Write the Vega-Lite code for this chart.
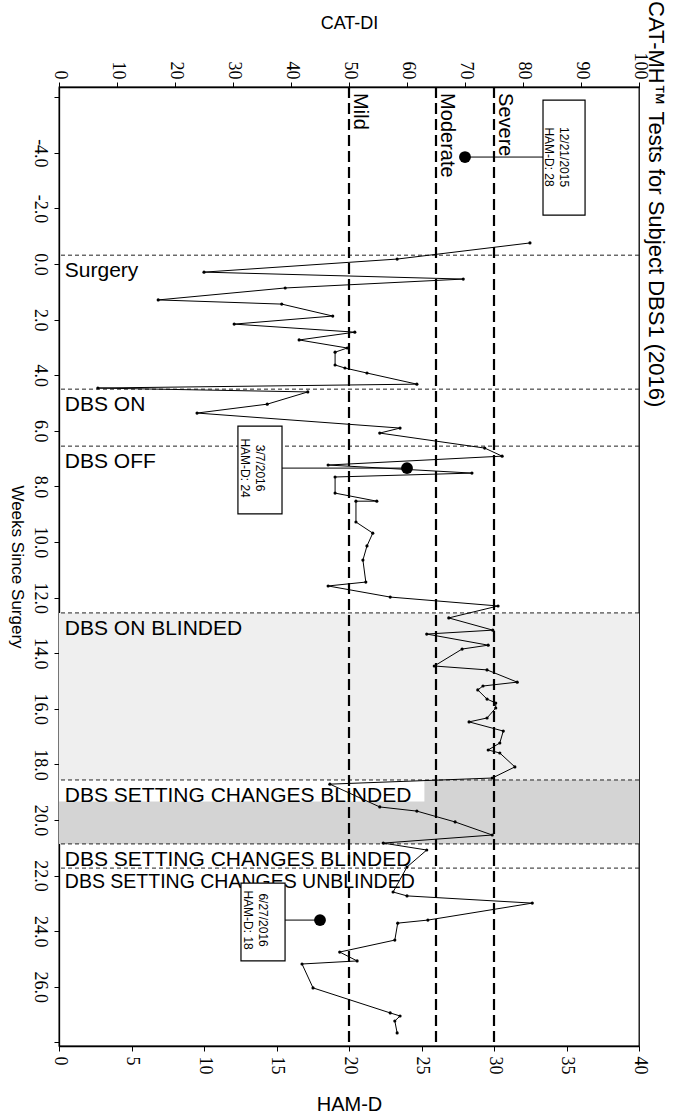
{
  "$schema": "https://vega.github.io/schema/vega-lite/v6.json",
  "width": 580,
  "height": 959,
  "autosize": {"type": "none"},
  "padding": {"left": 59, "top": 87, "right": 38, "bottom": 71},
  "background": "white",
  "config": {
    "font": "Liberation Sans",
    "view": {"stroke": "black", "strokeWidth": 1.3},
    "axis": {"domainColor": "black", "tickColor": "black", "labelColor": "black", "titleColor": "black", "grid": false, "titleFontWeight": "normal", "domainWidth": 1.3}
  },
  "title": {
    "text": "CAT-MH™ Tests for Subject DBS1 (2016)",
    "orient": "right",
    "anchor": "start",
    "frame": "group",
    "angle": 90,
    "baseline": "alphabetic",
    "offset": -21,
    "dx": -86,
    "fontSize": 22,
    "fontWeight": "normal",
    "font": "Liberation Sans",
    "color": "black"
  },
  "datasets": {
    "line": [
      {"i":1,"week":-0.76,"cat":81.2},{"i":2,"week":-0.18,"cat":58.3},{"i":3,"week":0.29,"cat":25.0},{"i":4,"week":0.54,"cat":69.7},
      {"i":5,"week":0.86,"cat":39.0},{"i":6,"week":1.29,"cat":17.1},{"i":7,"week":1.44,"cat":38.4},{"i":8,"week":1.87,"cat":47.2},
      {"i":9,"week":2.16,"cat":30.2},{"i":10,"week":2.45,"cat":51.0},{"i":11,"week":2.73,"cat":41.4},{"i":12,"week":3.02,"cat":49.7},
      {"i":13,"week":3.17,"cat":47.6},{"i":14,"week":3.63,"cat":47.6},{"i":15,"week":3.74,"cat":49.3},{"i":16,"week":3.92,"cat":53.1},
      {"i":17,"week":4.32,"cat":61.7},{"i":18,"week":4.46,"cat":6.7},{"i":19,"week":4.60,"cat":42.9},{"i":20,"week":5.04,"cat":35.9},
      {"i":21,"week":5.36,"cat":23.8},{"i":22,"week":5.90,"cat":58.8},{"i":23,"week":6.08,"cat":55.3},{"i":24,"week":6.62,"cat":73.4},
      {"i":25,"week":6.91,"cat":76.4},{"i":26,"week":7.23,"cat":46.4},{"i":27,"week":7.52,"cat":71.2},{"i":28,"week":7.66,"cat":47.6},
      {"i":29,"week":8.24,"cat":47.6},{"i":30,"week":8.53,"cat":54.8},{"i":31,"week":8.53,"cat":51.2},{"i":32,"week":9.28,"cat":51.2},
      {"i":33,"week":9.68,"cat":54.1},{"i":34,"week":10.14,"cat":53.1},{"i":35,"week":10.65,"cat":52.4},{"i":36,"week":11.44,"cat":52.9},
      {"i":37,"week":11.58,"cat":46.4},{"i":38,"week":11.98,"cat":57.1},{"i":39,"week":12.30,"cat":75.7},{"i":40,"week":12.73,"cat":67.2},
      {"i":41,"week":13.17,"cat":74.8},{"i":42,"week":13.31,"cat":63.4},{"i":43,"week":13.71,"cat":74.0},{"i":44,"week":13.85,"cat":69.5},
      {"i":45,"week":14.46,"cat":64.7},{"i":46,"week":14.60,"cat":73.8},{"i":47,"week":15.04,"cat":79.0},{"i":48,"week":15.18,"cat":73.1},
      {"i":49,"week":15.32,"cat":72.2},{"i":50,"week":15.65,"cat":73.8},{"i":51,"week":15.79,"cat":75.3},{"i":52,"week":15.97,"cat":75.3},
      {"i":53,"week":16.33,"cat":73.8},{"i":54,"week":16.47,"cat":70.7},{"i":55,"week":16.80,"cat":76.6},{"i":56,"week":17.23,"cat":76.0},
      {"i":57,"week":17.48,"cat":74.0},{"i":58,"week":17.59,"cat":76.0},{"i":59,"week":18.09,"cat":78.6},{"i":60,"week":18.49,"cat":74.7},
      {"i":61,"week":18.71,"cat":46.7},{"i":62,"week":19.53,"cat":55.3},{"i":63,"week":19.68,"cat":61.7},{"i":64,"week":20.07,"cat":68.3},
      {"i":65,"week":20.54,"cat":74.7},{"i":66,"week":20.83,"cat":55.9},{"i":67,"week":21.08,"cat":63.4},{"i":68,"week":21.69,"cat":60.0},
      {"i":69,"week":22.59,"cat":57.6},{"i":70,"week":22.73,"cat":60.0},{"i":71,"week":22.99,"cat":81.6},{"i":72,"week":23.60,"cat":63.6},
      {"i":73,"week":23.71,"cat":58.4},{"i":74,"week":24.32,"cat":57.9},{"i":75,"week":24.75,"cat":48.4},{"i":76,"week":25.07,"cat":51.4},
      {"i":77,"week":25.18,"cat":41.9},{"i":78,"week":26.04,"cat":43.8},{"i":79,"week":26.94,"cat":57.1},{"i":80,"week":27.05,"cat":58.8},
      {"i":81,"week":27.23,"cat":57.9},{"i":82,"week":27.66,"cat":58.3}
    ],
    "ham": [
      {"date":"12/21/2015","week":-3.85,"hamd":28,"label":"12/21/2015\nHAM-D: 28","box_left":33.38,"box_right":36.28,"box_mid":34.83,"box_start":-5.90,"box_end":-1.76},
      {"date":"3/7/2016","week":7.34,"hamd":24,"label":"3/7/2016\nHAM-D: 24","box_left":12.34,"box_right":15.38,"box_mid":13.86,"box_start":5.83,"box_end":8.99},
      {"date":"6/27/2016","week":23.6,"hamd":18,"label":"6/27/2016\nHAM-D: 18","box_left":12.55,"box_right":15.59,"box_mid":14.07,"box_start":22.27,"box_end":25.07}
    ],
    "phases": [
      {"phase":"Surgery","start":-0.32},
      {"phase":"DBS ON","start":4.50},
      {"phase":"DBS OFF","start":6.55},
      {"phase":"DBS ON BLINDED","start":12.55},
      {"phase":"DBS SETTING CHANGES BLINDED","start":18.56},
      {"phase":"DBS SETTING CHANGES BLINDED","start":20.86},
      {"phase":"DBS SETTING CHANGES UNBLINDED","start":21.73}
    ],
    "shading": [
      {"phase":"DBS ON BLINDED","start":12.55,"end":18.56},
      {"phase":"DBS SETTING CHANGES BLINDED","start":18.56,"end":20.86}
    ],
    "labelbg": [
      {"phase":"DBS SETTING CHANGES BLINDED","start":18.56,"end":19.33,"left":0,"right":25.2}
    ],
    "thresholds": [
      {"level":"Mild","catdi":50,"hamd":20},
      {"level":"Moderate","catdi":65,"hamd":26},
      {"level":"Severe","catdi":75,"hamd":30}
    ]
  },
  "layer": [
    {
      "data": {"name": "shading"},
      "mark": {"type": "rect"},
      "encoding": {
        "y": {"field": "start", "type": "quantitative",
          "scale": {"domain": [-6.37, 28.13], "reverse": true, "nice": false, "zero": false},
          "axis": {"title": "Weeks Since Surgery", "values": [-6,-5,-4,-3,-2,-1,0,1,2,3,4,5,6,7,8,9,10,11,12,13,14,15,16,17,18,19,20,21,22,23,24,25,26,27,28],
            "labelExpr": "datum.value % 2 == 0 && datum.value > -5 && datum.value < 27 ? replace(format(datum.value, '.1f'), '\u2212', '-') : ''",
            "labelAngle": 90, "labelAlign": "center", "labelBaseline": "top", "labelFontSize": 18,
            "labelFont": "Liberation Sans Narrow", "labelPadding": 6, "tickSize": 5,
            "titleAngle": 90, "titleBaseline": "top", "titleFontSize": 17, "titlePadding": 6}},
        "y2": {"field": "end"},
        "color": {"field": "phase", "type": "nominal", "legend": null,
          "scale": {"domain": ["DBS ON BLINDED", "DBS SETTING CHANGES BLINDED"], "range": ["#efefef", "#d4d4d4"]}}
      }
    },
    {
      "data": {"name": "labelbg"},
      "mark": {"type": "rect", "fill": "white"},
      "encoding": {
        "x": {"field": "left", "type": "quantitative", "scale": {"domain": [0, 40], "nice": false, "zero": false}, "axis": null},
        "x2": {"field": "right"},
        "y": {"field": "start", "type": "quantitative", "scale": {"domain": [-6.37, 28.13], "reverse": true, "nice": false, "zero": false}},
        "y2": {"field": "end"}
      }
    },
    {
      "data": {"name": "phases"},
      "mark": {"type": "rule", "color": "#222222", "strokeWidth": 1, "strokeDash": [4, 3]},
      "encoding": {
        "y": {"field": "start", "type": "quantitative", "scale": {"domain": [-6.37, 28.13], "reverse": true, "nice": false, "zero": false}}
      }
    },
    {
      "data": {"name": "thresholds"},
      "mark": {"type": "rule", "color": "black", "strokeWidth": 2.2, "strokeDash": [11, 5]},
      "encoding": {
        "x": {"field": "hamd", "type": "quantitative", "scale": {"domain": [0, 40], "nice": false, "zero": false},
          "axis": {"orient": "bottom", "title": "HAM-D", "values": [0,5,10,15,20,25,30,35,40],
            "labelAngle": 90, "labelAlign": "left", "labelBaseline": "middle", "labelFontSize": 18,
            "labelFont": "Liberation Sans Narrow", "labelPadding": 5, "tickSize": 5,
            "titleFontSize": 20, "titlePadding": 20}}
      }
    },
    {
      "data": {"name": "thresholds"},
      "mark": {"type": "text", "angle": 90, "align": "left", "baseline": "alphabetic", "dy": -5, "fontSize": 20, "color": "black"},
      "encoding": {
        "x": {"field": "hamd", "type": "quantitative", "scale": {"domain": [0, 40], "nice": false, "zero": false}, "axis": null},
        "y": {"datum": -6.15, "type": "quantitative", "scale": {"domain": [-6.37, 28.13], "reverse": true, "nice": false, "zero": false}},
        "text": {"field": "level"}
      }
    },
    {
      "data": {"name": "phases"},
      "transform": [{"filter": "datum.phase != 'DBS SETTING CHANGES UNBLINDED'"}],
      "mark": {"type": "text", "align": "left", "baseline": "top", "dy": 5, "fontSize": 21, "color": "black"},
      "encoding": {
        "x": {"datum": 0.4, "type": "quantitative", "scale": {"domain": [0, 40], "nice": false, "zero": false}, "axis": null},
        "y": {"field": "start", "type": "quantitative", "scale": {"domain": [-6.37, 28.13], "reverse": true, "nice": false, "zero": false}},
        "text": {"field": "phase"}
      }
    },
    {
      "data": {"name": "phases"},
      "transform": [{"filter": "datum.phase == 'DBS SETTING CHANGES UNBLINDED'"}],
      "mark": {"type": "text", "align": "left", "baseline": "top", "dy": 5, "fontSize": 19.5, "color": "black"},
      "encoding": {
        "x": {"datum": 0.4, "type": "quantitative", "scale": {"domain": [0, 40], "nice": false, "zero": false}, "axis": null},
        "y": {"field": "start", "type": "quantitative", "scale": {"domain": [-6.37, 28.13], "reverse": true, "nice": false, "zero": false}},
        "text": {"field": "phase"}
      }
    },
    {
      "data": {"name": "ham"},
      "mark": {"type": "rule", "color": "black", "strokeWidth": 1},
      "encoding": {
        "x": {"field": "hamd", "type": "quantitative", "scale": {"domain": [0, 40], "nice": false, "zero": false}, "axis": null},
        "x2": {"field": "box_left"},
        "y": {"field": "week", "type": "quantitative", "scale": {"domain": [-6.37, 28.13], "reverse": true, "nice": false, "zero": false}}
      }
    },
    {
      "data": {"name": "ham"},
      "mark": {"type": "rect", "fill": "white", "stroke": "black", "strokeWidth": 1.2},
      "encoding": {
        "x": {"field": "box_left", "type": "quantitative", "scale": {"domain": [0, 40], "nice": false, "zero": false}, "axis": null},
        "x2": {"field": "box_right"},
        "y": {"field": "box_start", "type": "quantitative", "scale": {"domain": [-6.37, 28.13], "reverse": true, "nice": false, "zero": false}},
        "y2": {"field": "box_end"}
      }
    },
    {
      "data": {"name": "ham"},
      "mark": {"type": "text", "angle": 90, "align": "center", "baseline": "middle", "lineBreak": "\n", "fontSize": 12, "lineHeight": 15, "color": "black"},
      "encoding": {
        "x": {"field": "box_mid", "type": "quantitative", "scale": {"domain": [0, 40], "nice": false, "zero": false}, "axis": null},
        "y": {"field": "week", "type": "quantitative", "scale": {"domain": [-6.37, 28.13], "reverse": true, "nice": false, "zero": false}},
        "text": {"field": "label"}
      }
    },
    {
      "data": {"name": "ham"},
      "mark": {"type": "point", "filled": true, "size": 140, "color": "black", "opacity": 1},
      "encoding": {
        "x": {"field": "hamd", "type": "quantitative", "scale": {"domain": [0, 40], "nice": false, "zero": false}, "axis": null},
        "y": {"field": "week", "type": "quantitative", "scale": {"domain": [-6.37, 28.13], "reverse": true, "nice": false, "zero": false}}
      }
    },
    {
      "data": {"name": "line"},
      "mark": {"type": "line", "color": "black", "strokeWidth": 1},
      "encoding": {
        "x": {"field": "cat", "type": "quantitative", "scale": {"domain": [0, 100], "nice": false, "zero": false},
          "axis": {"orient": "top", "title": "CAT-DI", "values": [0,10,20,30,40,50,60,70,80,90,100],
            "labelAngle": 90, "labelAlign": "right", "labelBaseline": "middle", "labelFontSize": 18,
            "labelFont": "Liberation Sans Narrow", "labelPadding": 3, "tickSize": 5,
            "titleFontSize": 18, "titlePadding": 20}},
        "y": {"field": "week", "type": "quantitative", "scale": {"domain": [-6.37, 28.13], "reverse": true, "nice": false, "zero": false}},
        "order": {"field": "i", "type": "quantitative"}
      }
    },
    {
      "data": {"name": "line"},
      "mark": {"type": "point", "filled": true, "size": 10, "color": "black", "opacity": 1},
      "encoding": {
        "x": {"field": "cat", "type": "quantitative", "scale": {"domain": [0, 100], "nice": false, "zero": false}, "axis": null},
        "y": {"field": "week", "type": "quantitative", "scale": {"domain": [-6.37, 28.13], "reverse": true, "nice": false, "zero": false}}
      }
    }
  ],
  "resolve": {"scale": {"x": "independent"}, "axis": {"x": "independent"}}
}
